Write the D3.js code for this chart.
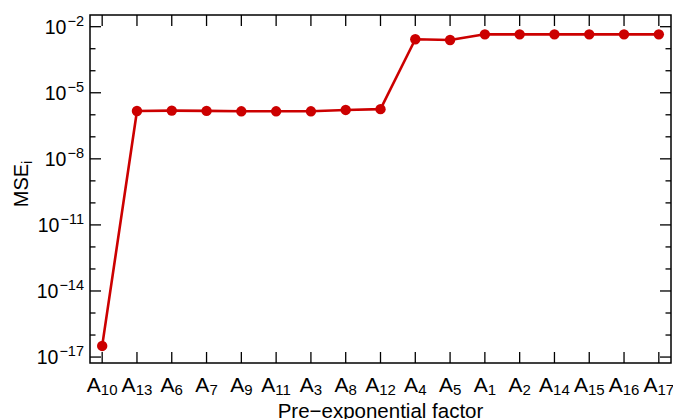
<!DOCTYPE html>
<html>
<head>
<meta charset="utf-8">
<script src="https://cdn.jsdelivr.net/npm/d3@7"></script>
<style>
  html, body { margin: 0; padding: 0; background: #fff; }
  svg { display: block; font-family: "Liberation Sans", Arial, sans-serif; }
</style>
</head>
<body>
<svg id="chart" width="673" height="419"></svg>
<script>
// ---- data ----
const categories = ["10","13","6","7","9","11","3","8","12","4","5","1","2","14","15","16","17"];
const mseValues = [3.2e-17, 1.48e-6, 1.55e-6, 1.5e-6, 1.44e-6, 1.44e-6, 1.44e-6, 1.66e-6, 1.8e-6,
                   2.7e-3, 2.5e-3, 4.5e-3, 4.5e-3, 4.5e-3, 4.5e-3, 4.5e-3, 4.5e-3];
const yMajorExponents = [-17, -14, -11, -8, -5, -2];
const xTitle = "Pre\u2212exponential factor";
const yTitleMain = "MSE";
const yTitleSub = "i";

// ---- layout ----
const W = 673, H = 419;
const margin = { left: 90, right: 2, top: 15, bottom: 56 };
const x0 = margin.left, x1 = W - margin.right, y0 = margin.top, y1 = H - margin.bottom;

const svg = d3.select("#chart");

const x = d3.scalePoint().domain(categories).range([x0, x1]).padding(0.35);
const y = d3.scaleLog().domain([Math.pow(10, -17.27), Math.pow(10, -1.469)]).range([y1, y0]);

const allDecades = d3.range(-17, -1).map(e => Math.pow(10, e));

const majorLen = 11, minorLen = 5.5;
const tickG = svg.append("g").attr("stroke", "#000").attr("stroke-width", 1.3);

// y minor + major ticks left and right
allDecades.forEach(v => {
  const isMajor = yMajorExponents.some(e => Math.abs(Math.log10(v) - e) < 1e-9);
  const len = isMajor ? majorLen : minorLen;
  const yy = y(v);
  tickG.append("line").attr("x1", x0).attr("x2", x0 + len).attr("y1", yy).attr("y2", yy);
  tickG.append("line").attr("x1", x1).attr("x2", x1 - len).attr("y1", yy).attr("y2", yy);
});
// x ticks bottom and top
categories.forEach(c => {
  const xx = x(c);
  tickG.append("line").attr("x1", xx).attr("x2", xx).attr("y1", y1).attr("y2", y1 - majorLen);
  tickG.append("line").attr("x1", xx).attr("x2", xx).attr("y1", y0).attr("y2", y0 + majorLen);
});

// frame
svg.append("rect").attr("x", x0).attr("y", y0).attr("width", x1 - x0).attr("height", y1 - y0)
  .attr("fill", "none").attr("stroke", "#000").attr("stroke-width", 1.5);

// y tick labels
const yl = svg.append("g");
yMajorExponents.forEach(e => {
  const t = yl.append("text").attr("x", x0 - 6).attr("y", y(Math.pow(10, e)) + 7)
    .attr("text-anchor", "end").attr("font-size", 19.5).attr("fill", "#000");
  t.append("tspan").text("10");
  t.append("tspan").attr("font-size", 14.5).attr("dy", -8).attr("dx", 1).text("\u2212" + Math.abs(e));
});

// x tick labels
const xl = svg.append("g");
categories.forEach(c => {
  const t = xl.append("text").attr("x", x(c)).attr("y", y1 + 29)
    .attr("text-anchor", "middle").attr("font-size", 21).attr("fill", "#000");
  t.append("tspan").text("A");
  t.append("tspan").attr("font-size", 15).attr("dy", 3).text(c);
});

// axis titles
svg.append("text").attr("x", (x0 + x1) / 2).attr("y", 417.5).attr("text-anchor", "middle")
  .attr("font-size", 20.5).attr("fill", "#000").text(xTitle);
const yt = svg.append("text").attr("transform", `translate(28, ${184}) rotate(-90)`)
  .attr("text-anchor", "middle").attr("font-size", 20).attr("fill", "#000");
yt.append("tspan").text(yTitleMain);
yt.append("tspan").attr("font-size", 14).attr("dy", 4).text(yTitleSub);

// line + points
const red = "#cc0000";
const data = categories.map((c, i) => ({ c, v: mseValues[i] }));
svg.append("path").datum(data)
  .attr("fill", "none").attr("stroke", red).attr("stroke-width", 2.6).attr("stroke-linejoin", "round")
  .attr("d", d3.line().x(d => x(d.c)).y(d => y(d.v)));
svg.append("g").selectAll("circle").data(data).join("circle")
  .attr("cx", d => x(d.c)).attr("cy", d => y(d.v)).attr("r", 5.2).attr("fill", red);
</script>
</body>
</html>
